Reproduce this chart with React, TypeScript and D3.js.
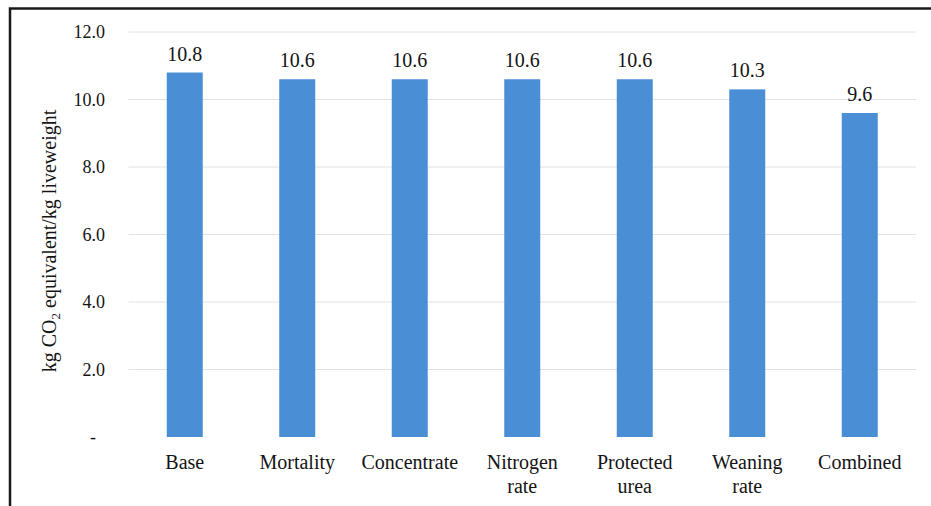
import React, { useEffect, useRef } from "react";
import * as d3 from "d3";

// Emissions intensity per mitigation scenario
const categories: string[][] = [
  ["Base"],
  ["Mortality"],
  ["Concentrate"],
  ["Nitrogen", "rate"],
  ["Protected", "urea"],
  ["Weaning", "rate"],
  ["Combined"],
];
const values: number[] = [10.8, 10.6, 10.6, 10.6, 10.6, 10.3, 9.6];
const yTicks: number[] = [0, 2, 4, 6, 8, 10, 12];

const W = 931;
const H = 506;
const FONT = "'Liberation Serif', 'Times New Roman', serif";
const BAR = "#4a8fd6";
const INK = "#141414";

export default function App() {
  const ref = useRef<SVGSVGElement>(null);

  useEffect(() => {
    const svg = d3.select(ref.current);
    svg.selectAll("*").remove();

    const keys = categories.map((c) => c.join(" "));
    const x = d3.scaleBand<string>().domain(keys).range([128.5, 916]).paddingInner(0.68).paddingOuter(0.34);
    const y = d3.scaleLinear().domain([0, 12]).range([437, 32]);

    svg.append("rect").attr("width", W).attr("height", H).attr("fill", "#fff");

    // frame: top and left edges
    svg.append("path")
      .attr("d", `M10,${H} V8.5 H${W}`)
      .attr("fill", "none")
      .attr("stroke", "#1a1a1a")
      .attr("stroke-width", 2.5);

    // gridlines
    svg.append("g")
      .selectAll("line")
      .data(yTicks.filter((t) => t > 0))
      .join("line")
      .attr("x1", 128.5)
      .attr("x2", 916)
      .attr("y1", (d) => y(d))
      .attr("y2", (d) => y(d))
      .attr("stroke", "#e2e2e2")
      .attr("stroke-width", 1);

    // y tick labels
    svg.append("g")
      .selectAll("text")
      .data(yTicks)
      .join("text")
      .attr("x", (d) => (d === 0 ? 96 : 105))
      .attr("y", (d) => y(d))
      .attr("dy", "0.35em")
      .attr("text-anchor", "end")
      .attr("font-family", FONT)
      .attr("font-size", 18)
      .attr("fill", INK)
      .text((d) => (d === 0 ? "-" : d3.format(".1f")(d)));

    // bars
    svg.append("g")
      .selectAll("rect")
      .data(values)
      .join("rect")
      .attr("x", (_, i) => x(keys[i])!)
      .attr("width", x.bandwidth())
      .attr("y", (d) => y(d))
      .attr("height", (d) => y(0) - y(d))
      .attr("fill", BAR);

    // value labels
    svg.append("g")
      .selectAll("text")
      .data(values)
      .join("text")
      .attr("x", (_, i) => x(keys[i])! + x.bandwidth() / 2)
      .attr("y", (d) => y(d) - 12)
      .attr("text-anchor", "middle")
      .attr("font-family", FONT)
      .attr("font-size", 20)
      .attr("fill", INK)
      .text((d) => d3.format(".1f")(d));

    // category labels
    const cat = svg.append("g")
      .selectAll("text")
      .data(categories)
      .join("text")
      .attr("x", (_, i) => x(keys[i])! + x.bandwidth() / 2)
      .attr("y", 469)
      .attr("text-anchor", "middle")
      .attr("font-family", FONT)
      .attr("font-size", 20)
      .attr("fill", INK);
    cat.selectAll("tspan")
      .data((d) => d)
      .join("tspan")
      .attr("x", function () {
        return (this.parentNode as SVGTextElement).getAttribute("x");
      })
      .attr("dy", (_, j) => (j === 0 ? 0 : 24))
      .text((d) => d);

    // y axis title
    const title = svg.append("text")
      .attr("transform", `translate(56,${(97 + 385) / 2}) rotate(-90)`)
      .attr("text-anchor", "middle")
      .attr("font-family", FONT)
      .attr("font-size", 20)
      .attr("fill", INK);
    title.append("tspan").text("kg CO");
    title.append("tspan").attr("font-size", 13).attr("dy", 4).text("2");
    title.append("tspan").attr("dy", -4).text(" equivalent/kg liveweight");
  }, []);

  return (
    <svg ref={ref} width={W} height={H} style={{ position: "absolute", left: 0, top: 0 }} />
  );
}
